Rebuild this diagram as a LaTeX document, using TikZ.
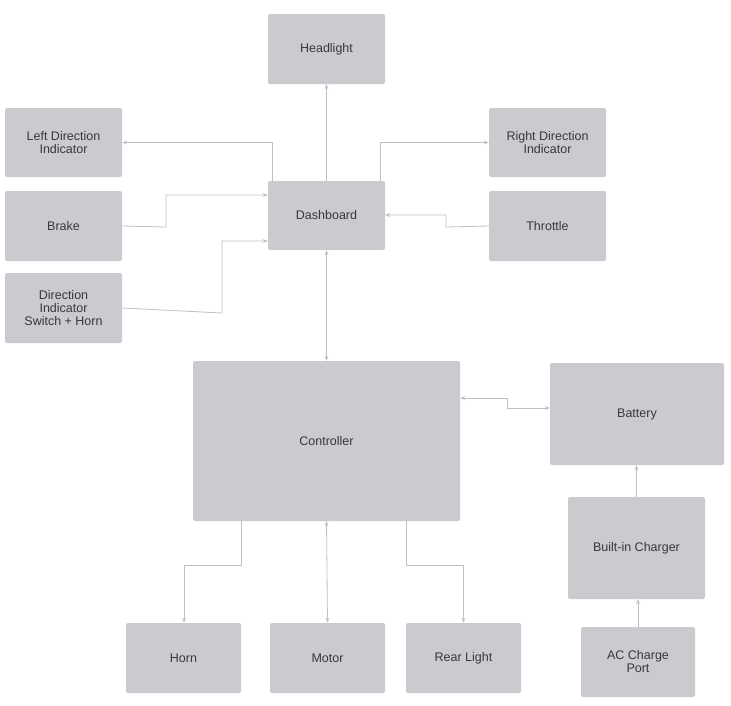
\documentclass[tikz,border=0pt]{standalone}
\usepackage{fontspec}
\setmainfont{Liberation Sans}
\usetikzlibrary{arrows.meta}
\begin{document}
\begin{tikzpicture}[x=1pt,y=-1pt,
  box/.style={draw=none,fill=boxc,rounded corners=2pt,align=center,text=txtc,font=\fontsize{12.5}{13}\selectfont,inner sep=0pt},
  ln/.style={draw=linec,line width=0.8pt,-{Stealth[length=5pt,width=4pt]}},
  bl/.style={draw=linec,line width=0.8pt,{Stealth[length=5pt,width=4pt]}-{Stealth[length=5pt,width=4pt]}}]
\definecolor{boxc}{RGB}{203,203,207}
\definecolor{txtc}{RGB}{55,55,60}
\definecolor{linec}{RGB}{192,192,195}
\useasboundingbox (0,0) rectangle (731,705);
\newcommand{\bx}[6]{\node[box,minimum width=#4-#2,minimum height=#5-#3] (#1) at ({(#2+#4)/2},{(#3+#5)/2}) {#6};}
\bx{head}{268}{14}{385}{84}{Headlight}
\bx{left}{5}{108}{122}{177}{Left Direction\\Indicator}
\bx{right}{489}{108}{606}{177}{Right Direction\\Indicator}
\bx{brake}{5}{191}{122}{261}{Brake}
\bx{dash}{268}{181}{385}{250}{Dashboard}
\bx{thr}{489}{191}{606}{261}{Throttle}
\bx{dis}{5}{273}{122}{343}{Direction\\Indicator\\Switch + Horn}
\bx{ctrl}{193}{361}{460}{521}{Controller}
\bx{bat}{550}{363}{724}{465}{Battery}
\bx{chg}{568}{497}{705}{599}{Built-in Charger}
\bx{horn}{126}{623}{241}{693}{Horn}
\bx{motor}{270}{623}{385}{693}{Motor}
\bx{rear}{406}{623}{521}{693}{Rear Light}
\bx{ac}{581}{627}{695}{697}{AC Charge\\Port}
\draw[ln] (dash.north) -- (head.south);
\draw[ln] (dash.north west)++(5,0) |- (left.east);
\draw[ln] (dash.north east)++(-5,0) |- (right.east -| right.west);
\draw[ln] (brake.east) -- (166,227) |- (dash.west |- 0,195);
\draw[ln] (thr.west) -- (446,227) |- (dash.east |- 0,215);
\draw[ln] (dis.east) -- (222,313) |- (dash.west |- 0,241);
\draw[bl] (dash.south) -- (ctrl.north);
\draw[bl] (ctrl.east |- 0,398) -- (507,398) |- (bat.west |- 0,408);
\draw[ln] (241,521) -- (241,565) -| (horn.north -| 184,0);
\draw[bl] (ctrl.south) -- (motor.north);
\draw[ln] (406,521) -- (406,565) -| (rear.north);
\draw[ln] (chg.north) -- (bat.south -| chg.north);
\draw[ln] (ac.north) -- (chg.south -| ac.north);
\end{tikzpicture}
\end{document}
